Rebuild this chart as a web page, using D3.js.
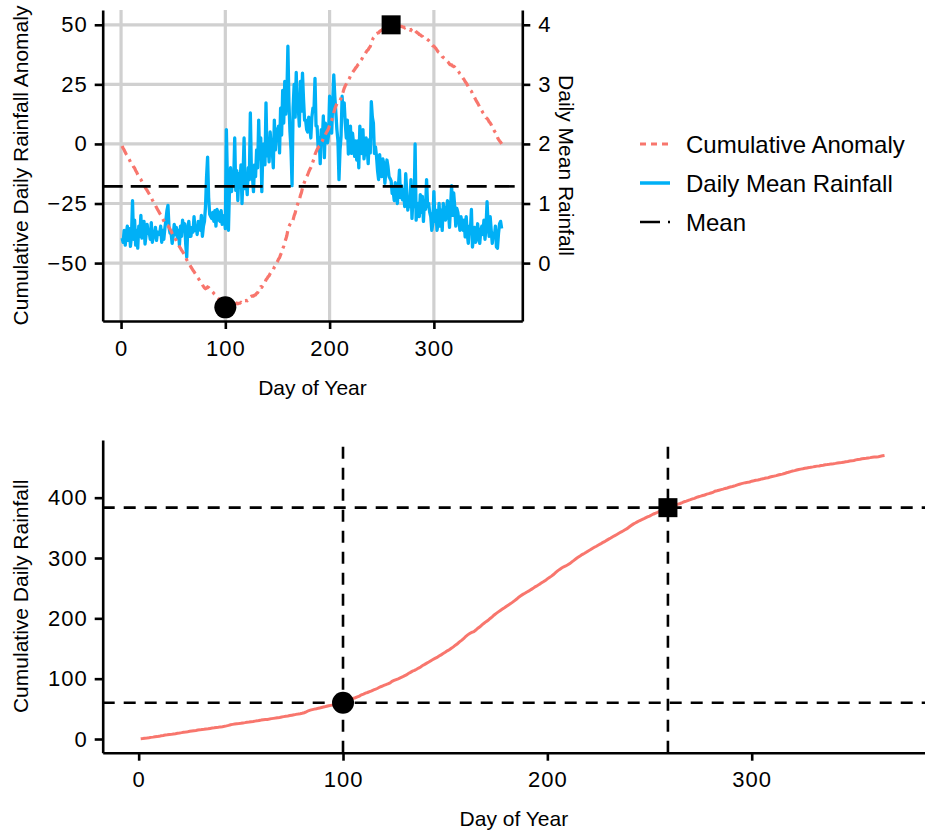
<!DOCTYPE html>
<html>
<head>
<meta charset="utf-8">
<script src="https://cdn.jsdelivr.net/npm/d3@7"></script>
<style>
  body { margin: 0; background: #fff; }
  svg text { font-family: "Liberation Sans", Arial, Helvetica, sans-serif; fill: #000; }
</style>
</head>
<body>
<svg id="chart" width="925" height="834"></svg>
<script>
// Daily mean rainfall, days 1..365
const dailyRain = [
  // days 1-30
  0.42,0.35,0.55,0.30,0.48,0.62,0.38,0.58,0.28,0.45,
  1.05,0.40,0.72,0.30,0.55,0.25,0.62,0.45,0.80,0.42,
  0.58,0.70,0.32,0.48,0.65,0.50,0.52,0.40,0.68,0.35,
  // days 31-55
  0.45,0.48,0.60,0.38,0.52,0.50,0.48,0.62,0.35,0.55,
  0.40,0.58,0.72,0.88,0.97,0.60,0.50,0.50,0.33,0.45,
  0.65,0.48,0.60,0.42,0.55,
  // days 56-65
  0.30,0.62,0.45,0.72,0.58,0.66,0.32,0.10,0.60,0.70,
  // days 66-79
  0.45,0.45,0.60,0.52,0.78,0.55,0.62,0.48,0.70,0.60,0.55,0.80,0.45,0.62,
  // days 80-90
  0.70,0.95,1.45,1.78,1.10,0.82,0.78,0.75,0.85,0.70,0.88,
  // days 91-100
  0.62,0.90,0.85,0.72,0.70,0.88,0.65,0.78,0.80,0.58,
  // days 101-128
  2.24,1.40,0.55,1.25,1.60,1.20,1.45,1.35,2.10,1.22,1.55,1.05,1.50,1.30,1.65,1.00,1.48,2.10,1.25,1.40,
  1.15,1.60,1.40,2.52,1.55,1.45,1.20,1.65,
  // days 129-152
  1.45,1.90,1.60,2.40,1.75,2.10,1.20,1.90,2.00,1.65,2.69,1.80,2.05,1.70,2.20,1.95,1.90,1.60,2.40,1.90,
  2.25,2.05,2.30,1.85,
  // days 153-176
  2.60,2.15,2.90,2.35,3.05,2.50,2.80,3.64,2.70,2.20,1.90,1.30,2.60,3.00,2.45,3.20,2.60,2.60,2.30,3.05,
  2.55,3.19,2.75,2.40,
  // days 177-200
  2.40,2.24,2.20,2.45,2.30,2.10,2.45,2.60,2.55,3.10,2.30,2.30,1.95,2.10,1.67,2.24,2.05,2.47,1.77,2.35,
  2.20,2.02,2.15,2.80,
  // days 201-225
  2.30,2.18,2.70,3.16,2.80,2.52,2.24,2.05,1.40,1.90,2.13,2.80,2.50,2.69,2.35,2.10,2.40,1.83,1.95,2.30,
  1.84,2.18,2.00,1.79,2.05,
  // days 226-259
  1.73,2.05,1.60,2.30,1.95,1.84,2.24,1.75,1.90,2.10,1.95,1.67,2.07,1.85,2.71,2.45,2.35,1.84,1.95,1.79,
  1.55,1.40,1.82,1.60,1.45,1.75,1.67,1.34,1.55,1.73,1.62,1.45,1.42,1.38,
  // days 260-274
  1.17,1.20,1.05,1.35,1.20,1.00,1.29,1.56,1.10,1.30,1.06,1.23,0.95,1.50,1.20,
  // days 275-298
  0.89,1.05,0.95,1.40,0.75,1.10,0.95,2.00,0.72,0.95,1.00,0.78,1.15,0.85,1.12,0.70,1.05,0.90,1.40,0.95,
  1.00,0.85,0.78,0.55,
  // days 299-322
  0.66,1.20,0.70,0.89,0.55,0.66,1.00,0.62,0.89,0.55,1.00,0.89,0.72,0.78,1.05,0.85,0.60,0.95,1.30,0.80,
  1.18,0.95,0.62,0.92,
  // days 323-365
  0.85,0.70,0.55,0.78,0.66,0.55,0.72,0.44,0.78,0.50,
  0.33,0.62,0.55,0.90,0.27,0.44,0.60,0.35,0.50,0.66,
  0.40,0.33,0.55,0.62,0.48,0.72,0.40,0.60,1.03,0.66,
  0.45,0.78,0.55,0.33,0.50,0.44,0.62,0.27,0.25,0.50,
  0.66,0.70,0.58
];

const dayTicks = [0, 100, 200, 300];
const anomalyTicks = [-50, -25, 0, 25, 50];
const rainTicks = [0, 1, 2, 3, 4];
const cumTicks = [0, 100, 200, 300, 400];
const legendLabels = ["Cumulative Anomaly", "Daily Mean Rainfall", "Mean"];

const COL_ANOM = "#F8766D";
const COL_RAIN = "#00B0F6";
const GRID = "#d0d0d0";
const FONT_TICK = 22, FONT_TITLE = 21, FONT_LEGEND = 24;
const DASH_ANOM = "10,5,3,5";
const DASH_MEAN = "20,8";

// Derived series
const days = dailyRain.map((_, i) => i + 1);
const meanRain = d3.mean(dailyRain);
const cumRain = Array.from(d3.cumsum(dailyRain));
const cumAnomaly = Array.from(d3.cumsum(dailyRain, v => v - meanRain));
const iMin = d3.minIndex(cumAnomaly);
const iMax = d3.maxIndex(cumAnomaly);

const svg = d3.select("#chart");

function styleAxis(g) {
  g.selectAll("path.domain").attr("stroke", "#000").attr("stroke-width", 2.6);
  g.selectAll(".tick line").attr("stroke", "#000").attr("stroke-width", 2.6);
  g.selectAll(".tick text")
    .attr("font-size", FONT_TICK)
    .attr("font-family", "'Liberation Sans', Arial, sans-serif")
    .style("letter-spacing", "1px")
    .attr("fill", "#000");
}

// ---------- Upper panel: cumulative anomaly + daily mean rainfall ----------
const T = { left: 102.7, right: 522.3, top: 10, bottom: 321 };
const xTop = d3.scaleLinear().domain([-17.6, 384.8]).range([T.left, T.right]);
const yAnom = d3.scaleLinear().domain([-74.3, 56.2]).range([T.bottom, T.top]);
// secondary axis: rainfall r maps to anomaly units as 25*r - 50
const yRain = d3.scaleLinear().domain([(-74.3 + 50) / 25, (56.2 + 50) / 25]).range([T.bottom, T.top]);

const upper = svg.append("g");

// grid
upper.append("g").selectAll("line").data(dayTicks).join("line")
  .attr("x1", d => xTop(d)).attr("x2", d => xTop(d))
  .attr("y1", T.top).attr("y2", T.bottom)
  .attr("stroke", GRID).attr("stroke-width", 3.2);
upper.append("g").selectAll("line").data(anomalyTicks).join("line")
  .attr("x1", T.left).attr("x2", T.right)
  .attr("y1", d => yAnom(d)).attr("y2", d => yAnom(d))
  .attr("stroke", GRID).attr("stroke-width", 3.2);

// daily rainfall
upper.append("path")
  .datum(days)
  .attr("fill", "none")
  .attr("stroke", COL_RAIN)
  .attr("stroke-width", 3.3)
  .attr("stroke-linejoin", "round")
  .attr("d", d3.line().x(d => xTop(d)).y((d, i) => yRain(dailyRain[i])));

// cumulative anomaly
upper.append("path")
  .datum(days)
  .attr("fill", "none")
  .attr("stroke", COL_ANOM)
  .attr("stroke-width", 3.2)
  .attr("stroke-dasharray", DASH_ANOM)
  .attr("d", d3.line().x(d => xTop(d)).y((d, i) => yAnom(cumAnomaly[i])));

// mean line
upper.append("line")
  .attr("x1", T.left).attr("x2", T.right)
  .attr("y1", yRain(meanRain)).attr("y2", yRain(meanRain))
  .attr("stroke", "#000").attr("stroke-width", 2.6)
  .attr("stroke-dasharray", DASH_MEAN);

// extremes
upper.append("circle")
  .attr("cx", xTop(days[iMin])).attr("cy", yAnom(cumAnomaly[iMin]))
  .attr("r", 11).attr("fill", "#000");
upper.append("rect")
  .attr("x", xTop(days[iMax]) - 9.5).attr("y", yAnom(cumAnomaly[iMax]) - 9.5)
  .attr("width", 19).attr("height", 19).attr("fill", "#000");

upper.append("g").attr("transform", `translate(0,${T.bottom})`)
  .call(d3.axisBottom(xTop).tickValues(dayTicks).tickFormat(d3.format("d"))
    .tickSize(8).tickSizeOuter(0).tickPadding(11))
  .call(styleAxis);
upper.append("g").attr("transform", `translate(${T.left},0)`)
  .call(d3.axisLeft(yAnom).tickValues(anomalyTicks).tickFormat(d3.format("d"))
    .tickSize(8).tickSizeOuter(0).tickPadding(7))
  .call(styleAxis);
upper.append("g").attr("transform", `translate(${T.right},0)`)
  .call(d3.axisRight(yRain).tickValues(rainTicks).tickFormat(d3.format("d"))
    .tickSize(8).tickSizeOuter(0).tickPadding(8))
  .call(styleAxis);

upper.append("text")
  .attr("x", (T.left + T.right) / 2).attr("y", 395)
  .attr("text-anchor", "middle").attr("font-size", FONT_TITLE)
  .text("Day of Year");
upper.append("text")
  .attr("transform", `translate(28,${(T.top + T.bottom) / 2}) rotate(-90)`)
  .attr("text-anchor", "middle").attr("font-size", FONT_TITLE)
  .text("Cumulative Daily Rainfall Anomaly");
upper.append("text")
  .attr("transform", `translate(559,${(T.top + T.bottom) / 2}) rotate(90)`)
  .attr("text-anchor", "middle").attr("font-size", FONT_TITLE)
  .text("Daily Mean Rainfall");

// legend
const legend = svg.append("g").attr("transform", "translate(640,144)");
const keyStyles = [
  { color: COL_ANOM, dash: "6,5", width: 3 },
  { color: COL_RAIN, dash: null, width: 3.5 },
  { color: "#000", dash: DASH_MEAN, width: 2.6 }
];
legendLabels.forEach((label, i) => {
  const gy = i * 39;
  legend.append("line")
    .attr("x1", 0).attr("x2", 30).attr("y1", gy).attr("y2", gy)
    .attr("stroke", keyStyles[i].color)
    .attr("stroke-width", keyStyles[i].width)
    .attr("stroke-dasharray", keyStyles[i].dash);
  legend.append("text")
    .attr("x", 46).attr("y", gy + 9)
    .attr("font-size", FONT_LEGEND)
    .text(label);
});

// ---------- Lower panel: cumulative rainfall ----------
const B = { left: 102.7, right: 925, top: 440, bottom: 752.7 };
const xBot = d3.scaleLinear().domain([-17.6, 384.8]).range([B.left, B.right]);
const yCum = d3.scaleLinear().domain([-22.7, 495.6]).range([B.bottom, B.top]);

const lower = svg.append("g");

lower.append("path")
  .datum(days)
  .attr("fill", "none")
  .attr("stroke", COL_ANOM)
  .attr("stroke-width", 3)
  .attr("d", d3.line().x(d => xBot(d)).y((d, i) => yCum(cumRain[i])));

// reference lines through the extremes
[iMin, iMax].forEach(i => {
  lower.append("line")
    .attr("x1", B.left).attr("x2", B.right)
    .attr("y1", yCum(cumRain[i])).attr("y2", yCum(cumRain[i]))
    .attr("stroke", "#000").attr("stroke-width", 2.6).attr("stroke-dasharray", "12,9");
  lower.append("line")
    .attr("x1", xBot(days[i])).attr("x2", xBot(days[i]))
    .attr("y1", B.bottom).attr("y2", B.top)
    .attr("stroke", "#000").attr("stroke-width", 2.6).attr("stroke-dasharray", "12,9");
});

lower.append("circle")
  .attr("cx", xBot(days[iMin])).attr("cy", yCum(cumRain[iMin]))
  .attr("r", 11).attr("fill", "#000");
lower.append("rect")
  .attr("x", xBot(days[iMax]) - 9.5).attr("y", yCum(cumRain[iMax]) - 9.5)
  .attr("width", 19).attr("height", 19).attr("fill", "#000");

lower.append("g").attr("transform", `translate(0,${B.bottom})`)
  .call(d3.axisBottom(xBot).tickValues(dayTicks).tickFormat(d3.format("d"))
    .tickSize(8).tickSizeOuter(0).tickPadding(11))
  .call(styleAxis);
lower.append("g").attr("transform", `translate(${B.left},0)`)
  .call(d3.axisLeft(yCum).tickValues(cumTicks).tickFormat(d3.format("d"))
    .tickSize(8).tickSizeOuter(0).tickPadding(7))
  .call(styleAxis);

lower.append("text")
  .attr("x", (B.left + B.right) / 2).attr("y", 826)
  .attr("text-anchor", "middle").attr("font-size", FONT_TITLE)
  .text("Day of Year");
lower.append("text")
  .attr("transform", `translate(28,${(B.top + B.bottom) / 2}) rotate(-90)`)
  .attr("text-anchor", "middle").attr("font-size", FONT_TITLE)
  .text("Cumulative Daily Rainfall");
</script>
</body>
</html>
